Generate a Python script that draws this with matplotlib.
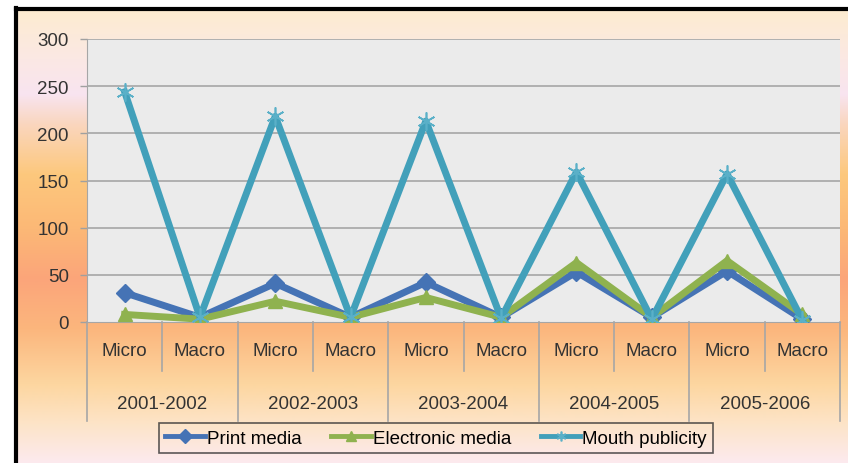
import numpy as np
import matplotlib
matplotlib.use("Agg")
import matplotlib.pyplot as plt
from matplotlib.lines import Line2D

plt.rcParams['font.family'] = ['Liberation Sans', 'DejaVu Sans']

years = ['2001-2002', '2002-2003', '2003-2004', '2004-2005', '2005-2006']
levels = ['Micro', 'Macro']
print_media = [31, 5, 41, 5, 42, 5, 53, 5, 54, 3]
electronic_media = [8, 3, 22, 5, 26, 5, 63, 5, 65, 8]
mouth_publicity = [244, 5, 218, 5, 213, 4, 159, 3, 157, 2]
yticks = [0, 50, 100, 150, 200, 250, 300]

W, H = 848, 464
FS = 13.5
fig = plt.figure(figsize=(W / 100, H / 100), dpi=100)
fig.patch.set_facecolor('white')

# background gradient (chart area)
bg = fig.add_axes([16 / W, 0, 1 - 16 / W, 1 - 10 / H])
bg.set_axis_off()
stops_y = [10, 60, 95, 125, 175, 230, 280, 330, 385, 425, 464]
stops_c = [(253, 236, 208), (251, 232, 228), (248, 228, 240), (250, 214, 190),
           (253, 200, 125), (252, 184, 118), (251, 165, 122), (251, 182, 125),
           (253, 214, 160), (253, 228, 200), (252, 234, 238)]
ys = np.arange(10, 465)
cols = np.zeros((len(ys), 1, 3))
for k in range(3):
    cols[:, 0, k] = np.interp(ys, stops_y, [c[k] for c in stops_c]) / 255.0
bg.imshow(cols, aspect='auto', extent=[0, 1, 0, 1])
bg.set_xlim(0, 1)
bg.set_ylim(0, 1)

# black frame (left and top)
fig.add_artist(Line2D([15.5 / W, 15.5 / W], [0, 1 - 9 / H], color='black', lw=3, transform=fig.transFigure))
fig.add_artist(Line2D([15.5 / W, 1], [1 - 9.5 / H, 1 - 9.5 / H], color='black', lw=3, transform=fig.transFigure))

x0, x1, y0, y1 = 87, 840, 323, 40
ax = fig.add_axes([x0 / W, 1 - y0 / H, (x1 - x0) / W, (y0 - y1) / H])
ax.set_facecolor('#ebebeb')
x = np.arange(len(print_media))
lw = 5
ax.plot(x, print_media, color='#4573b5', lw=lw, marker='D', ms=9, label='Print media', zorder=3)
ax.plot(x, electronic_media, color='#8fb24f', lw=lw, marker='^', ms=10, label='Electronic media', zorder=4)
ax.plot(x, mouth_publicity, color='#42a0ba', lw=lw, marker=(6, 2, 0), ms=13, mew=1.2,
        mec='#5ab0c8', label='Mouth publicity', zorder=5)

ax.set_xlim(-0.5, len(x) - 0.5)
ax.set_ylim(0, 300)
ax.set_yticks(yticks)
ax.set_yticklabels([str(v) for v in yticks], fontsize=FS, color='#333333')
ax.tick_params(axis='y', length=5, color='#a0a0a0', width=1, pad=8)
ax.set_xticks([])
for v in yticks[1:]:
    ax.axhline(v, color='#a6a6a6', lw=1.2, zorder=1)
for s in ['top', 'right']:
    ax.spines[s].set_visible(False)
ax.spines['left'].set_color('#a6a6a6')
ax.spines['bottom'].set_color('#a6a6a6')

tr = ax.get_xaxis_transform()
lab_y = -(352 - y0) / (y0 - y1)
grp_y = -(405 - y0) / (y0 - y1)
inner_y = -(372 - y0) / (y0 - y1)
outer_y = -(422 - y0) / (y0 - y1)
for i, xi in enumerate(x):
    ax.text(xi, lab_y, levels[i % 2], transform=tr, ha='center', va='center',
            fontsize=FS, color='#333333', clip_on=False)
for j, yr in enumerate(years):
    ax.text(2 * j + 0.5, grp_y, yr, transform=tr, ha='center', va='center',
            fontsize=FS, color='#333333', clip_on=False)
for j in range(len(years)):
    ax.plot([2 * j + 0.5, 2 * j + 0.5], [0, inner_y], transform=tr, color='#a6a6a6',
            lw=1.2, clip_on=False)
for j in range(len(years) + 1):
    ax.plot([2 * j - 0.5, 2 * j - 0.5], [0, outer_y], transform=tr, color='#a6a6a6',
            lw=1.2, clip_on=False)

leg = fig.legend(loc='center', bbox_to_anchor=(436 / W, 1 - 439 / H), ncol=3,
                 fontsize=FS, frameon=True, fancybox=False, handlelength=2.1,
                 handletextpad=0.1, columnspacing=1.6, borderpad=0.35)
leg.get_frame().set_facecolor('none')
leg.get_frame().set_edgecolor('#333333')
leg.get_frame().set_linewidth(1.2)
for h in leg.legend_handles:
    h.set_linewidth(3.5)
    h.set_markersize(7)

fig.savefig('out.png', dpi=100)
